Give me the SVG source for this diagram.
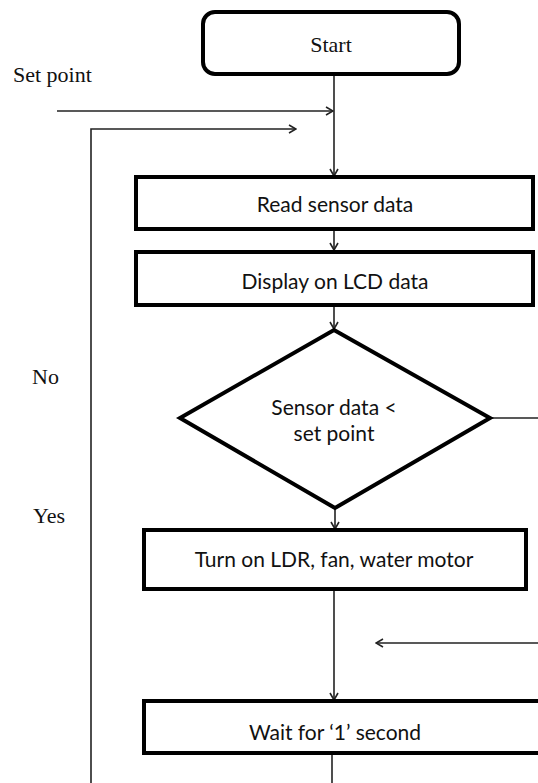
<svg xmlns="http://www.w3.org/2000/svg" width="538" height="783" viewBox="0 0 538 783">
<style>
.box{fill:#fff;stroke:#000;stroke-width:4}
.ln{fill:none;stroke:#222;stroke-width:1.6}
.t{font-family:Lato,"Open Sans",sans-serif;font-size:21px;fill:#111;text-anchor:middle}
.s{font-family:"Liberation Serif","Times New Roman",serif;font-size:22px;fill:#111}
</style>
<defs>
<marker id="ah" markerUnits="userSpaceOnUse" markerWidth="10" markerHeight="10" refX="9" refY="5" orient="auto">
<path d="M2,1 L9,5 L2,9" fill="none" stroke="#222" stroke-width="1.6"/>
</marker>
</defs>
<rect width="538" height="783" fill="#fff"/>
<g id="connectors">
<line class="ln" x1="334" y1="74" x2="334" y2="176" marker-end="url(#ah)"/>
<line class="ln" x1="57" y1="111" x2="333" y2="111" marker-end="url(#ah)"/>
<polyline class="ln" points="91,783 91,129 296,129" marker-end="url(#ah)"/>
<line class="ln" x1="334" y1="229" x2="334" y2="250" marker-end="url(#ah)"/>
<line class="ln" x1="334" y1="305" x2="334" y2="329" marker-end="url(#ah)"/>
<line class="ln" x1="490" y1="418" x2="538" y2="418"/>
<line class="ln" x1="335" y1="508" x2="335" y2="529" marker-end="url(#ah)"/>
<line class="ln" x1="334" y1="589" x2="334" y2="700" marker-end="url(#ah)"/>
<line class="ln" x1="538" y1="643" x2="376" y2="643" marker-end="url(#ah)"/>
<line class="ln" x1="332" y1="747" x2="332" y2="783"/>
</g>
<g id="start">
<rect class="box" x="203" y="12" width="256" height="62" rx="12"/>
<text class="s" x="331" y="52" text-anchor="middle">Start</text>
</g>
<g id="setpoint-label"><text class="s" x="13" y="82">Set point</text></g>
<g id="read">
<rect class="box" x="136" y="177" width="397" height="52"/>
<text class="t" x="335" y="212">Read sensor data</text>
</g>
<g id="display">
<rect class="box" x="136" y="252" width="397" height="53"/>
<text class="t" x="335" y="289">Display on LCD data</text>
</g>
<g id="decision">
<polygon class="box" points="334,330 490,418 335,508 180,418"/>
<text class="t" x="334" y="415">Sensor data &lt;</text>
<text class="t" x="334" y="441">set point</text>
</g>
<g id="labels">
<text class="s" x="32" y="384">No</text>
<text class="s" x="33" y="523">Yes</text>
</g>
<g id="turnon">
<rect class="box" x="144" y="530" width="382" height="59"/>
<text class="t" x="334" y="567">Turn on LDR, fan, water motor</text>
</g>
<g id="wait">
<rect class="box" x="144" y="701" width="400" height="52"/>
<text class="t" x="335" y="740">Wait for ‘1’ second</text>
</g>
</svg>
